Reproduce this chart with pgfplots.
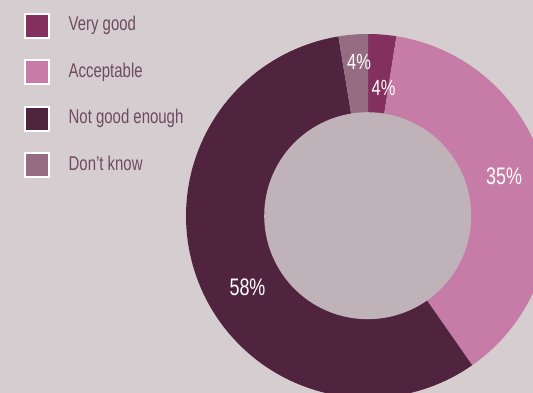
\documentclass[border=0pt]{standalone}
\usepackage{pgfplots}
\pgfplotsset{compat=1.18}
\usepackage{fontspec}
\setmainfont{Liberation Sans}[FakeStretch=0.75]
\definecolor{bg}{HTML}{D6CDD1}
\definecolor{hole}{HTML}{BFB3B9}
\definecolor{vg}{HTML}{83305F}
\definecolor{acc}{HTML}{C67CA6}
\definecolor{ng}{HTML}{50233F}
\definecolor{dk}{HTML}{966C83}
\definecolor{legtext}{HTML}{6D4B5F}
\begin{document}
\begin{tikzpicture}
\fill[bg] (0,0) rectangle (533bp,393bp);
\begin{axis}[
  at={(0,0)}, anchor=south west,
  width=533bp, height=393bp, scale only axis,
  xmin=0, xmax=533, ymin=0, ymax=393, y dir=reverse,
  hide axis, clip=true,
  legend style={draw=none, fill=none, inner sep=0pt, outer sep=0pt,
    at={(axis cs:23.7,12.7)}, anchor=north west,
    font=\fontsize{20}{24}\selectfont, text=legtext,
    row sep=20.5bp, column sep=19bp,
    nodes={inner sep=0pt, outer sep=0pt, text height=14bp, text depth=4bp}},
  legend cell align=left,
]
% shares drawn (percent of circle): Very good 2.5, Acceptable 37.8, Not good enough 57.1, Don't know 2.6
\addplot[forget plot, fill=vg, draw=none, domain={0*3.6}:{2.5*3.6}, samples=20]
  ({368+182*sin(x)},{216-182*cos(x)}) -- (axis cs:368,216) -- cycle;
\addplot[forget plot, fill=acc, draw=none, domain={2.5*3.6}:{40.3*3.6}, samples=80]
  ({368+182*sin(x)},{216-182*cos(x)}) -- (axis cs:368,216) -- cycle;
\addplot[forget plot, fill=ng, draw=none, domain={40.3*3.6}:{97.4*3.6}, samples=120]
  ({368+182*sin(x)},{216-182*cos(x)}) -- (axis cs:368,216) -- cycle;
\addplot[forget plot, fill=dk, draw=none, domain={97.4*3.6}:{100*3.6}, samples=20]
  ({368+182*sin(x)},{216-182*cos(x)}) -- (axis cs:368,216) -- cycle;
\addplot[forget plot, fill=hole, draw=none, domain=0:360, samples=120]
  ({367.7+103.5*sin(x)},{215.7-103.5*cos(x)}) -- cycle;

\node[anchor=base, text=white, font=\fontsize{22}{22}\selectfont] at (axis cs:359,69.5) {4\%};
\node[anchor=base, text=white, font=\fontsize{22}{22}\selectfont] at (axis cs:383.5,95) {4\%};
\node[anchor=base, text=white, font=\fontsize{24}{24}\selectfont] at (axis cs:504,184.5) {35\%};
\node[anchor=base, text=white, font=\fontsize{24}{24}\selectfont] at (axis cs:247.5,295.5) {58\%};

\addlegendimage{legend image code/.code={\draw[white, line width=2bp, fill=vg] (0bp,-12bp) rectangle (24bp,12bp);}}
\addlegendentry{Very good}
\addlegendimage{legend image code/.code={\draw[white, line width=2bp, fill=acc] (0bp,-12bp) rectangle (24bp,12bp);}}
\addlegendentry{Acceptable}
\addlegendimage{legend image code/.code={\draw[white, line width=2bp, fill=ng] (0bp,-12bp) rectangle (24bp,12bp);}}
\addlegendentry{Not good enough}
\addlegendimage{legend image code/.code={\draw[white, line width=2bp, fill=dk] (0bp,-12bp) rectangle (24bp,12bp);}}
\addlegendentry{Don’t know}
\end{axis}
\pgfresetboundingbox
\path[use as bounding box] (0,0) rectangle (533bp,393bp);
\end{tikzpicture}
\end{document}
